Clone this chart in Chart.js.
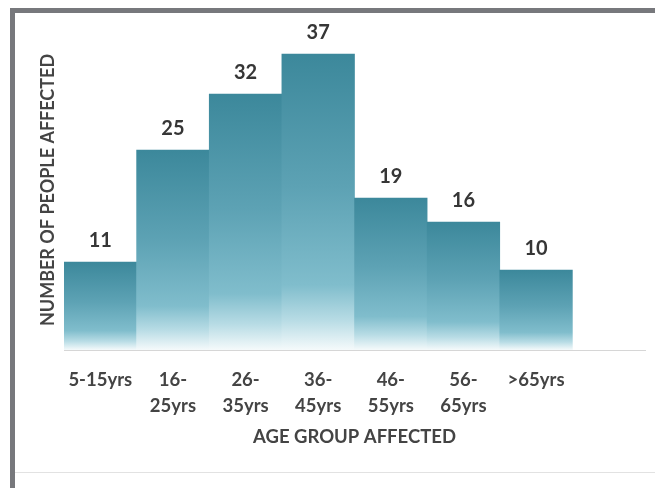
<!DOCTYPE html>
<html>
<head>
<meta charset="utf-8">
<script src="https://cdn.jsdelivr.net/npm/chart.js@4/dist/chart.umd.min.js"></script>
<style>
  html, body { margin:0; padding:0; background:#fff; }
  #wrap { position:relative; width:655px; height:488px; overflow:hidden; }
  #frame {
    position:absolute; left:10px; top:8px; right:-10px; bottom:-10px;
    border-top:5px solid #77787c; border-left:5px solid #77787c;
  }
  #rule { position:absolute; left:15px; right:0; top:472px; height:1px; background:#e2e2e2; }
  canvas { position:absolute; left:0; top:0; }
</style>
</head>
<body>
<div id="wrap">
  <div id="frame"></div>
  <div id="rule"></div>
  <canvas id="chart" width="655" height="488"></canvas>
</div>
<script>
// datos del gráfico
const grupos  = [['5-15yrs'], ['16-', '25yrs'], ['26-', '35yrs'], ['36-', '45yrs'],
                 ['46-', '55yrs'], ['56-', '65yrs'], ['>65yrs'], ''];
const afectados = [11, 25, 32, 37, 19, 16, 10, null];
const tituloX = 'AGE GROUP AFFECTED';
const tituloY = 'NUMBER OF PEOPLE AFFECTED';

const FUENTE = 'Lato, "Open Sans", sans-serif';
const GRIS   = '#444444';

// degradado por barra, de teal arriba a blanco abajo
function degradado(ctx) {
  const chart = ctx.chart;
  const v = ctx.parsed ? ctx.parsed.y : null;
  if (!chart.chartArea || v == null) return '#3b8598';
  const y = chart.scales.y;
  const top = y.getPixelForValue(v);
  const base = y.getPixelForValue(0);
  const g = chart.ctx.createLinearGradient(0, top, 0, base);
  g.addColorStop(0,    '#3c889b');
  g.addColorStop(0.45, '#5da2b4');
  g.addColorStop(0.78, '#80bdcc');
  g.addColorStop(0.9,  '#b8dce5');
  g.addColorStop(1,    '#f5fafb');
  return g;
}

// etiquetas de valor encima de cada barra
const etiquetas = {
  id: 'etiquetas',
  afterDatasetsDraw(chart) {
    const c = chart.ctx;
    const meta = chart.getDatasetMeta(0);
    c.save();
    c.font = 'bold 20px ' + FUENTE;
    c.fillStyle = '#363636';
    c.textAlign = 'center';
    c.textBaseline = 'middle';
    meta.data.forEach((bar, i) => {
      if (afectados[i] == null) return;
      c.fillText(afectados[i], bar.x, bar.y - 21);
    });
    c.restore();
  }
};

new Chart(document.getElementById('chart'), {
  type: 'bar',
  data: {
    labels: grupos,
    datasets: [{
      data: afectados,
      backgroundColor: degradado,
      borderWidth: 0,
      barPercentage: 1,
      categoryPercentage: 1,
    }]
  },
  options: {
    responsive: false,
    animation: false,
    layout: { padding: { left: 28, top: 30, right: 10, bottom: 0 } },
    plugins: { legend: { display: false }, tooltip: { enabled: false } },
    scales: {
      x: {
        grid: { display: false, drawTicks: false },
        border: { display: true, color: '#d6d6d6', width: 1 },
        ticks: {
          color: GRIS, padding: 17, maxRotation: 0, autoSkip: false,
          font: { family: FUENTE, size: 18.5, weight: 'bold', lineHeight: 1.4 }
        },
        title: {
          display: true, text: tituloX, color: GRIS,
          font: { family: FUENTE, size: 18.5, weight: 'bold' },
          padding: { top: 0, bottom: 40 }
        },
        afterFit: s => { s.height = 138; }
      },
      y: {
        min: 0, max: 40,
        grid: { display: false, drawTicks: false },
        border: { display: false },
        ticks: { display: false },
        title: {
          display: true, text: tituloY, color: GRIS,
          font: { family: FUENTE, size: 18, weight: 'bold' },
          padding: { top: 9, bottom: 0 }
        },
        afterFit: s => { s.width = 36; }
      }
    }
  },
  plugins: [etiquetas]
});
</script>
</body>
</html>
